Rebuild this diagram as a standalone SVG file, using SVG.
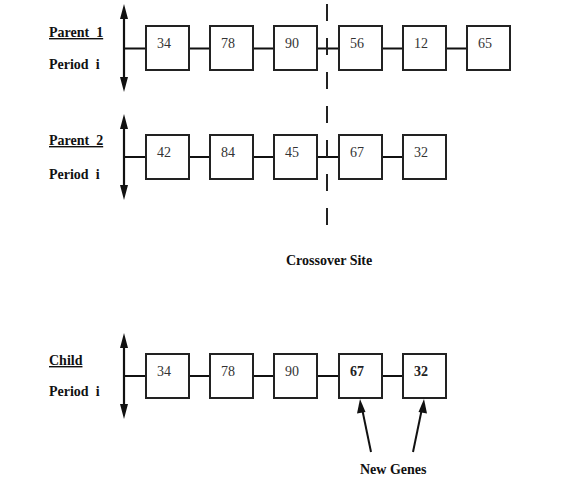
<svg xmlns="http://www.w3.org/2000/svg" width="563" height="479" viewBox="0 0 563 479">
<style>
.box{fill:#fff;stroke:#222;stroke-width:2}
.ln{stroke:#111;stroke-width:2;fill:none}
.ax{stroke:#111;stroke-width:2.2;fill:none}
.hd{fill:#111}
.num{font-family:"Liberation Serif",serif;font-size:14px;fill:#333}
.numb{font-family:"Liberation Serif",serif;font-size:14px;font-weight:bold;fill:#222}
.lbl{font-family:"Liberation Serif",serif;font-size:14px;font-weight:bold;fill:#111;white-space:pre}
.ul{text-decoration:underline}
</style>

<g id="connectors">
<!-- axes -->
<line class="ax" x1="124" y1="14" x2="124" y2="82"/>
<path class="hd" d="M124,4 L128,19 L120,19 Z M124,92 L128,77 L120,77 Z"/>
<line class="ax" x1="124" y1="124" x2="124" y2="190"/>
<path class="hd" d="M124,114 L128,129 L120,129 Z M124,200 L128,185 L120,185 Z"/>
<line class="ax" x1="124" y1="343" x2="124" y2="409"/>
<path class="hd" d="M124,333 L128,348 L120,348 Z M124,419 L128,404 L120,404 Z"/>
<!-- row 1 links -->
<path class="ln" d="M124,48.5H146 M189,48.5H210 M253,48.5H274 M317,48.5H339 M382,48.5H403 M446,48.5H467"/>
<!-- row 2 links -->
<path class="ln" d="M124,157H146 M189,157H210 M253,157H274 M317,157H339 M382,157H403"/>
<!-- row 3 links -->
<path class="ln" d="M124,376H146 M189,376H210 M253,376H274 M317,376H339 M382,376H403"/>
<!-- crossover dashed line -->
<line x1="327" y1="4" x2="327" y2="232" stroke="#222" stroke-width="2" stroke-dasharray="17 17"/>
<!-- new genes arrows -->
<line class="ln" x1="371" y1="452" x2="361.5" y2="406"/>
<path class="hd" d="M360,399 L365.5,412 L357,413.5 Z"/>
<line class="ln" x1="413" y1="452" x2="422.5" y2="406"/>
<path class="hd" d="M424,399 L427,413.5 L418.5,412 Z"/>
</g>

<g id="labels">
<text class="lbl ul" x="49" y="37">Parent  1</text>
<text class="lbl" x="49" y="69">Period  i</text>
<text class="lbl ul" x="49" y="145">Parent  2</text>
<text class="lbl" x="49" y="179">Period  i</text>
<text class="lbl ul" x="49" y="365">Child</text>
<text class="lbl" x="49" y="396">Period  i</text>
<text class="lbl" x="286" y="265">Crossover Site</text>
<text class="lbl" x="360" y="474">New Genes</text>
</g>

<g id="p1-34"><rect class="box" x="146" y="26" width="43" height="44"/><text class="num" x="157" y="48">34</text></g>
<g id="p1-78"><rect class="box" x="210" y="26" width="43" height="44"/><text class="num" x="221" y="48">78</text></g>
<g id="p1-90"><rect class="box" x="274" y="26" width="43" height="44"/><text class="num" x="285" y="48">90</text></g>
<g id="p1-56"><rect class="box" x="339" y="26" width="43" height="44"/><text class="num" x="350" y="48">56</text></g>
<g id="p1-12"><rect class="box" x="403" y="26" width="43" height="44"/><text class="num" x="414" y="48">12</text></g>
<g id="p1-65"><rect class="box" x="467" y="26" width="43" height="44"/><text class="num" x="478" y="48">65</text></g>

<g id="p2-42"><rect class="box" x="146" y="135" width="43" height="44"/><text class="num" x="157" y="157">42</text></g>
<g id="p2-84"><rect class="box" x="210" y="135" width="43" height="44"/><text class="num" x="221" y="157">84</text></g>
<g id="p2-45"><rect class="box" x="274" y="135" width="43" height="44"/><text class="num" x="285" y="157">45</text></g>
<g id="p2-67"><rect class="box" x="339" y="135" width="43" height="44"/><text class="num" x="350" y="157">67</text></g>
<g id="p2-32"><rect class="box" x="403" y="135" width="43" height="44"/><text class="num" x="414" y="157">32</text></g>

<g id="c-34"><rect class="box" x="146" y="354" width="43" height="44"/><text class="num" x="157" y="376">34</text></g>
<g id="c-78"><rect class="box" x="210" y="354" width="43" height="44"/><text class="num" x="221" y="376">78</text></g>
<g id="c-90"><rect class="box" x="274" y="354" width="43" height="44"/><text class="num" x="285" y="376">90</text></g>
<g id="c-67"><rect class="box" x="339" y="354" width="43" height="44"/><text class="numb" x="350" y="376">67</text></g>
<g id="c-32"><rect class="box" x="403" y="354" width="43" height="44"/><text class="numb" x="414" y="376">32</text></g>
</svg>
